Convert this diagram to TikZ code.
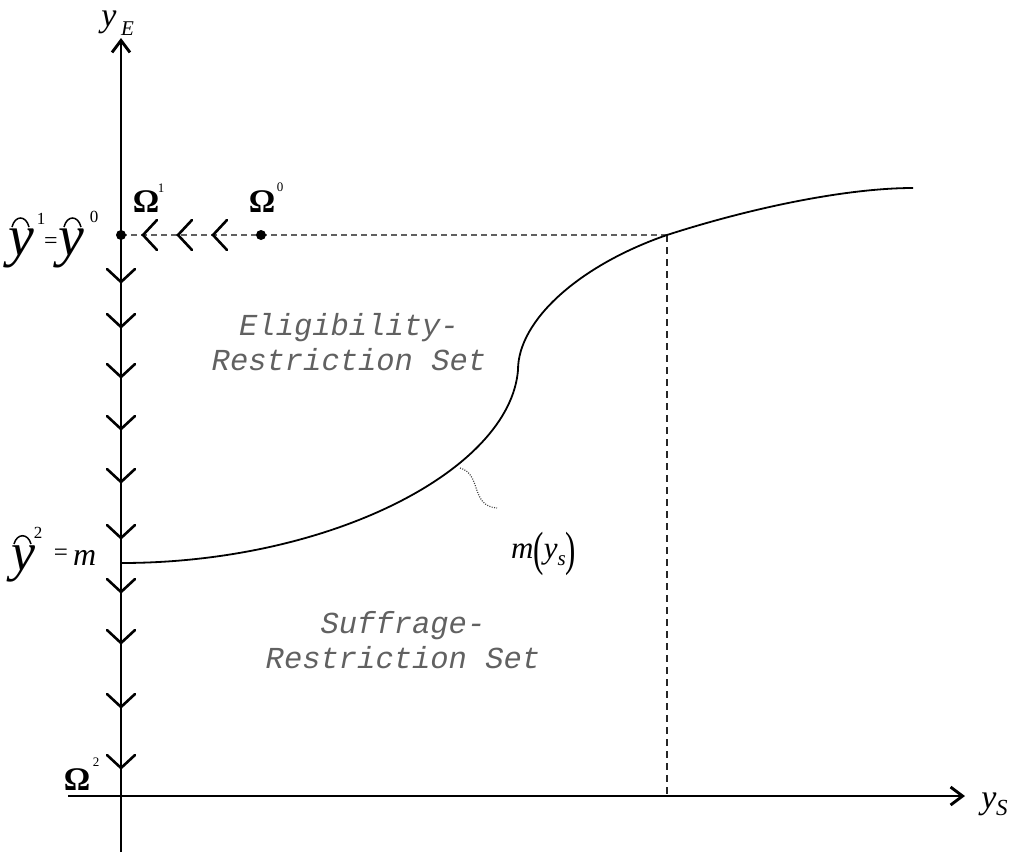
\documentclass[tikz,border=0pt]{standalone}
\usepackage{fontspec}
\setmainfont{Liberation Serif}
\newfontfamily\courier{Liberation Mono}
\usetikzlibrary{arrows.meta}
\tikzset{
  axis/.style={line width=2.9pt, -{Straight Barb[length=12pt,width=18pt]}},
  chev/.style={line width=2.6pt, line cap=round, line join=miter},
  guide/.style={line width=1.6pt, gray!75!black, dash pattern=on 6pt off 4pt},
  guidev/.style={line width=1.5pt, black!85, dash pattern=on 7pt off 5pt},
  hatarc/.style={line width=1.5pt},
  setlabel/.style={align=center, text=black!62, font=\courier\itshape\fontsize{30.5}{35}\selectfont},
  dotnode/.style={circle, fill=black, inner sep=0pt, minimum size=10pt},
  lbl/.style={inner sep=0pt},
  omega/.style={lbl, font=\bfseries\fontsize{33}{38}\selectfont},
  sup/.style={lbl, font=\fontsize{13}{15}\selectfont},
}
\begin{document}
\begin{tikzpicture}[x=1pt,y=-1pt]
\useasboundingbox (0,0) rectangle (1020,852);
% axes
\coordinate (ybot) at (121,852);
\coordinate (ytop) at (121,38);
\coordinate (xl) at (68,796);
\coordinate (xr) at (965,796);
\draw[axis] (ybot) -- (ytop);
\draw[axis] (xl) -- (xr);
% axis labels
\node[lbl, anchor=base, font=\itshape\fontsize{34}{40}\selectfont] (yEy) at (109,26) {y};
\node[lbl, anchor=base west, font=\itshape\fontsize{21}{24}\selectfont] (yEE) at (121,35) {E};
\node[lbl, anchor=base, font=\itshape\fontsize{34}{40}\selectfont] (ySy) at (989,808) {y};
\node[lbl, anchor=base west, font=\itshape\fontsize{23}{26}\selectfont] (ySS) at (996,815) {S};
% guides
\coordinate (g0) at (121,235);
\coordinate (gc) at (667,235);
\coordinate (gb) at (667,796);
\draw[guide] (g0) -- (gc);
\draw[guidev] (gc) -- (gb);
% curve m(y_s)
\coordinate (c0) at (121,563);
\coordinate (c1) at (518,370);
\coordinate (c3) at (913,188);
\draw[line width=1.8pt] (c0) .. controls (330,563) and (510,470) .. (c1)
  .. controls (518,320) and (580,265) .. (gc)
  .. controls (757,206) and (850,188) .. (c3);
% leader
\coordinate (la) at (460,468);
\coordinate (lb) at (497,508);
\draw[line width=1.2pt, black!75, dash pattern=on 1pt off 1.4pt] (la) .. controls (482,474) and (470,506) .. (lb);
\node[lbl, anchor=base west, font=\fontsize{31}{36}\selectfont] (mlab) at (511,558)
  {\textit{m}\raisebox{-0.24em}{\scalebox{1}[1.55]{(}}\textit{y}\raisebox{-0.25em}{\fontsize{21}{24}\selectfont\textit{s}}\raisebox{-0.24em}{\scalebox{1}[1.55]{)}}};
% dots
\node[dotnode] (om1) at (121,235) {};
\node[dotnode] (om0) at (261,235) {};
% left chevrons
\foreach \x in {143,178,213}
  \draw[chev] (\x+14,220) -- (\x,235) -- (\x+14,250);
% down chevrons
\foreach \t in {282,327,377,429,482,538,592,643,707,768}
  \draw[chev] (107,\t-13) -- (121,\t) -- (135,\t-13);
% Omega labels
\node[omega] (O1) at (146,202) {Ω};
\node[sup] (O1s) at (161,188) {1};
\node[omega] (O0) at (262,202) {Ω};
\node[sup] (O0s) at (280,187) {0};
\node[omega] (O2) at (77,780) {Ω};
\node[sup] (O2s) at (96,762) {2};
% y-hat labels
\node[lbl, anchor=base west, font=\itshape\fontsize{58}{64}\selectfont] (yh1) at (8,255) {y};
\draw[hatarc] (12,227) .. controls (15,215) and (26,215) .. (29,227);
\node[lbl, font=\fontsize{17}{20}\selectfont] (yh1s) at (41,219) {1};
\node[lbl, font=\fontsize{24}{28}\selectfont] (eq1) at (51,243) {=};
\node[lbl, anchor=base west, font=\itshape\fontsize{58}{64}\selectfont] (yh0) at (58,255) {y};
\draw[hatarc] (64,227) .. controls (67,215) and (78,215) .. (81,227);
\node[lbl, font=\fontsize{17}{20}\selectfont] (yh0s) at (94,217) {0};
\node[lbl, anchor=base west, font=\itshape\fontsize{54}{60}\selectfont] (yh2) at (11,570) {y};
\draw[hatarc] (14,544) .. controls (17,533) and (28,533) .. (31,544);
\node[lbl, font=\fontsize{17}{20}\selectfont] (yh2s) at (38,533) {2};
\node[lbl, font=\fontsize{25}{28}\selectfont] (eq2) at (61,555) {=};
\node[lbl, anchor=base west, font=\itshape\fontsize{32}{38}\selectfont] (m2) at (73,565) {m};
% set labels
\node[setlabel] (elig) at (349,342) {Eligibility-\\Restriction Set};
\node[setlabel] (suff) at (403,640) {Suffrage-\\Restriction Set};
\end{tikzpicture}
\end{document}
